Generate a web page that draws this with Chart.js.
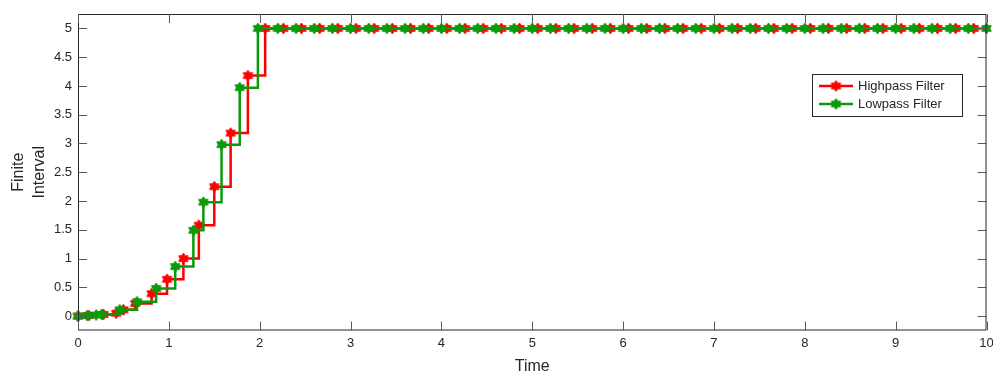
<!DOCTYPE html>
<html>
<head>
<meta charset="utf-8">
<script src="https://cdn.jsdelivr.net/npm/chart.js@4.4.0/dist/chart.umd.min.js"></script>
<style>
  html, body { margin: 0; padding: 0; background: #fff; }
  #wrap { width: 993px; height: 374px; }
</style>
</head>
<body>
<div id="wrap"><canvas id="myChart" width="993" height="374"></canvas></div>
<script>
// Highpass filter (red) sample times / values
var highTime = [0, 0.12, 0.28, 0.42, 0.5, 0.63, 0.81, 0.98, 1.16, 1.33, 1.5, 1.68, 1.87,
    2.06, 2.26, 2.46, 2.66, 2.86, 3.06, 3.26, 3.46, 3.66, 3.86, 4.06, 4.26, 4.46, 4.66, 4.86,
    5.06, 5.26, 5.46, 5.66, 5.86, 6.06, 6.26, 6.46, 6.66, 6.86, 7.06, 7.26, 7.46, 7.66, 7.86,
    8.06, 8.26, 8.46, 8.66, 8.86, 9.06, 9.26, 9.46, 9.66, 9.86];
var highValue = [0, 0.01, 0.03, 0.05, 0.11, 0.22, 0.39, 0.64, 1.0, 1.58, 2.25, 3.18, 4.18,
    5, 5, 5, 5, 5, 5, 5, 5, 5, 5, 5, 5, 5, 5, 5,
    5, 5, 5, 5, 5, 5, 5, 5, 5, 5, 5, 5, 5, 5, 5,
    5, 5, 5, 5, 5, 5, 5, 5, 5, 5];

// Lowpass filter (green)
var lowTime = [0, 0.1, 0.2, 0.26, 0.46, 0.65, 0.86, 1.07, 1.27, 1.38, 1.58, 1.78,
    1.98, 2.2, 2.4, 2.6, 2.8, 3.0, 3.2, 3.4, 3.6, 3.8, 4.0, 4.2, 4.4, 4.6, 4.8,
    5.0, 5.2, 5.4, 5.6, 5.8, 6.0, 6.2, 6.4, 6.6, 6.8, 7.0, 7.2, 7.4, 7.6, 7.8,
    8.0, 8.2, 8.4, 8.6, 8.8, 9.0, 9.2, 9.4, 9.6, 9.8, 10.0];
var lowValue = [0, 0.01, 0.02, 0.03, 0.11, 0.25, 0.48, 0.86, 1.49, 1.98, 2.98, 3.97,
    5, 5, 5, 5, 5, 5, 5, 5, 5, 5, 5, 5, 5, 5, 5,
    5, 5, 5, 5, 5, 5, 5, 5, 5, 5, 5, 5, 5, 5, 5,
    5, 5, 5, 5, 5, 5, 5, 5, 5, 5, 5];

var xTicks = [0, 1, 2, 3, 4, 5, 6, 7, 8, 9, 10];
var yTicks = [0, 0.5, 1, 1.5, 2, 2.5, 3, 3.5, 4, 4.5, 5];

var RED = '#ff0000';
var GREEN = '#0a9a0a';
var AXIS = '#262626';

// filled hexagram marker
function makeStar(color, r) {
    var c = document.createElement('canvas');
    var s = Math.ceil(r * 2 + 4);
    c.width = s; c.height = s;
    var g = c.getContext('2d');
    g.translate(s / 2, s / 2);
    g.beginPath();
    for (var i = 0; i < 12; i++) {
        var a = -Math.PI / 2 + i * Math.PI / 6;
        var rr = (i % 2 === 0) ? r : r * 0.6;
        if (i === 0) g.moveTo(rr * Math.cos(a), rr * Math.sin(a));
        else g.lineTo(rr * Math.cos(a), rr * Math.sin(a));
    }
    g.closePath();
    g.fillStyle = color;
    g.fill();
    g.lineWidth = 1;
    g.strokeStyle = color;
    g.stroke();
    return c;
}
var redStar = makeStar(RED, 5.5);
var greenStar = makeStar(GREEN, 5.5);

function toPoints(xs, ys) {
    return xs.map(function(x, i) { return {x: x, y: ys[i]}; });
}

var boxPlugin = {
    id: 'boxPlugin',
    afterDraw: function(chart) {
        var ctx = chart.ctx, a = chart.chartArea;
        var xs = chart.scales.x, ys = chart.scales.y;
        ctx.save();
        ctx.strokeStyle = AXIS;
        ctx.lineWidth = 1;
        ctx.beginPath();
        ctx.rect(a.left + 0.5, a.top + 0.5, a.right - a.left - 1, a.bottom - a.top - 1);
        ctx.stroke();
        ctx.beginPath();
        ctx.strokeStyle = '#5a5a5a';
        var tl = 9;
        xTicks.forEach(function(v) {
            var px = Math.round(xs.getPixelForValue(v)) + 0.5;
            ctx.moveTo(px, a.bottom); ctx.lineTo(px, a.bottom - tl);
            ctx.moveTo(px, a.top); ctx.lineTo(px, a.top + tl);
        });
        yTicks.forEach(function(v) {
            var py = Math.round(ys.getPixelForValue(v)) + 0.5;
            ctx.moveTo(a.left, py); ctx.lineTo(a.left + tl, py);
            ctx.moveTo(a.right, py); ctx.lineTo(a.right - tl, py);
        });
        ctx.stroke();

        // legend
        var lx = 812, ly = 74, lw = 150, lh = 42;
        ctx.fillStyle = '#fff';
        ctx.fillRect(lx, ly, lw, lh);
        ctx.strokeStyle = AXIS;
        ctx.strokeRect(lx + 0.5, ly + 0.5, lw, lh);
        var items = [[chart.data.datasets[0].label, RED, redStar], [chart.data.datasets[1].label, GREEN, greenStar]];
        ctx.font = '13px "Liberation Sans", Arial, sans-serif';
        ctx.textBaseline = 'middle';
        items.forEach(function(it, i) {
            var yy = ly + 12 + i * 18;
            ctx.strokeStyle = it[1];
            ctx.lineWidth = 2.5;
            ctx.beginPath();
            ctx.moveTo(lx + 7, yy); ctx.lineTo(lx + 41, yy);
            ctx.stroke();
            ctx.drawImage(it[2], lx + 24 - it[2].width / 2, yy - it[2].height / 2);
            ctx.fillStyle = AXIS;
            ctx.fillText(it[0], lx + 46, yy);
        });
        ctx.restore();
    }
};

const ctx = document.getElementById('myChart').getContext('2d');
const myChart = new Chart(ctx, {
    type: 'line',
    data: {
        datasets: [{
            label: 'Highpass Filter',
            data: toPoints(highTime, highValue),
            borderColor: RED,
            backgroundColor: RED,
            borderWidth: 2.5,
            stepped: true,
            pointStyle: redStar,
            clip: false,
            order: 2,
        }, {
            label: 'Lowpass Filter',
            data: toPoints(lowTime, lowValue),
            borderColor: GREEN,
            backgroundColor: GREEN,
            borderWidth: 2.5,
            stepped: true,
            pointStyle: greenStar,
            clip: false,
            order: 1,
        }]
    },
    plugins: [boxPlugin],
    options: {
        responsive: false,
        animation: false,
        layout: { padding: { top: 14, right: 6, left: 0, bottom: 0 } },
        scales: {
            x: {
                type: 'linear',
                min: 0, max: 10,
                grid: { display: false, drawTicks: false },
                border: { display: false },
                afterBuildTicks: function(s) { s.ticks = xTicks.map(function(v) { return {value: v}; }); },
                afterFit: function(s) { s.height = 43.5; s.paddingLeft = 0; s.paddingRight = 0; },
                ticks: {
                    padding: 5,
                    color: AXIS,
                    font: { family: '"Liberation Sans", Arial, sans-serif', size: 13 },
                    maxRotation: 0,
                    callback: function(v) { return String(v); },
                },
                title: {
                    display: true,
                    text: 'Time',
                    color: AXIS,
                    padding: { top: 6, bottom: -2 },
                    font: { family: '"Liberation Sans", Arial, sans-serif', size: 16 },
                }
            },
            y: {
                min: -0.25, max: 5.25,
                grid: { display: false, drawTicks: false },
                border: { display: false },
                afterBuildTicks: function(s) { s.ticks = yTicks.map(function(v) { return {value: v}; }); },
                afterFit: function(s) { s.width = 78; s.paddingTop = 0; s.paddingBottom = 0; },
                ticks: {
                    padding: 6,
                    color: AXIS,
                    font: { family: '"Liberation Sans", Arial, sans-serif', size: 13 },
                    callback: function(v) { return String(v); },
                },
                title: {
                    display: true,
                    text: ['Finite', 'Interval'],
                    color: AXIS,
                    padding: { top: 8, bottom: 0 },
                    font: { family: '"Liberation Sans", Arial, sans-serif', size: 16, lineHeight: 1.3 },
                }
            }
        },
        plugins: {
            legend: { display: false },
            tooltip: { enabled: false },
        }
    }
});
</script>
</body>
</html>
